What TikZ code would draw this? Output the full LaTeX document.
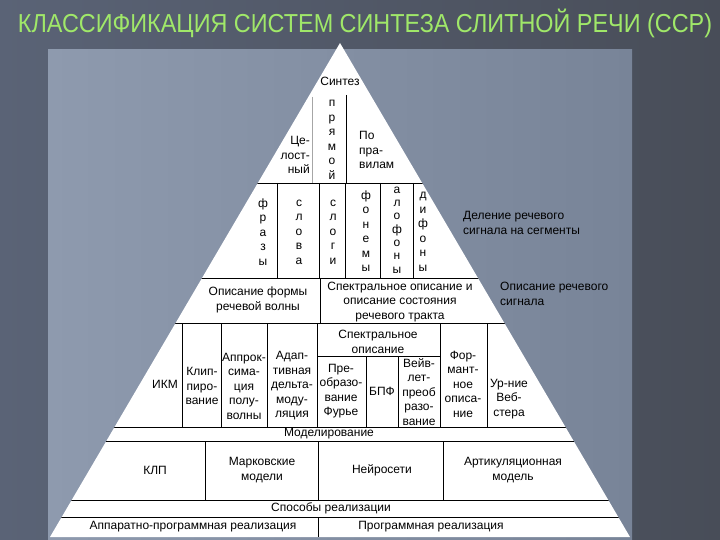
\documentclass[tikz,border=0pt]{standalone}
\usepackage{fontspec}
\setmainfont{Liberation Sans}
\definecolor{bgleft}{RGB}{90,99,118}
\definecolor{bgright}{RGB}{72,77,88}
\definecolor{panelleft}{RGB}{142,154,174}
\definecolor{panelright}{RGB}{120,132,152}
\definecolor{titlegreen}{RGB}{160,232,105}
\begin{document}
\begin{tikzpicture}[x=1pt,y=-1pt,
  txt/.style={font=\fontsize{12}{14.5}\selectfont, align=center, inner sep=0pt},
  col/.style={txt},
  ln/.style={line width=0.7pt, black},
  thin ln/.style={line width=0.5pt, gray!70}]
  \useasboundingbox (0,0) rectangle (720,540);
  \shade[left color=bgleft, right color=bgright] (0,0) rectangle (720,540);
  \shade[left color=panelleft, right color=panelright] (48,50) rectangle (632,540);
  \node[text=titlegreen, inner sep=0pt] (title) at (365,23)
    {\scalebox{0.9}[1]{\fontsize{26}{26}\selectfont КЛАССИФИКАЦИЯ СИСТЕМ СИНТЕЗА СЛИТНОЙ РЕЧИ (ССР)}};

  \coordinate (apex) at (340,43);
  \coordinate (bl) at (50,537);
  \coordinate (br) at (630,537);
  \fill[white] (apex) -- (bl) -- (br) -- cycle;
  \begin{scope}
    \clip (apex) -- (bl) -- (br) -- cycle;
    \foreach \y in {183,278,323,427,441,500,517}
      \draw[ln] (0,\y) -- (720,\y);
  \end{scope}

  \draw[thin ln] (312,97) -- (312,183);
  \draw[ln] (346,95) -- (346,183);
  \foreach \x in {277,319,380,413}
    \draw[ln] (\x,183) -- (\x,278);
  \draw[line width=1pt] (345,183) -- (345,278);
  \draw[ln] (320,278) -- (320,323);
  \foreach \x in {182,221,267,317,440,487}
    \draw[ln] (\x,323) -- (\x,427);
  \draw[ln] (317,356) -- (440,356);
  \foreach \x in {366,398}
    \draw[ln] (\x,356) -- (\x,427);
  \foreach \x in {205,318,443}
    \draw[ln] (\x,441) -- (\x,500);
  \draw[ln] (318,517) -- (318,537);

  \node[txt] (sintez) at (340,81) {Синтез};
  \node[txt, align=right, anchor=east] (whole) at (310,155) {Це-\\лост-\\ный};
  \node[col] (direct) at (332,140) {п\\р\\я\\м\\о\\й};
  \node[txt, align=left, anchor=west] (rules) at (359,150) {По\\пра-\\вилам};

  \node[col] (phrases) at (263,232) {ф\\р\\а\\з\\ы};
  \node[col] (words) at (299,232) {с\\л\\о\\в\\а};
  \node[col] (syllables) at (333,232) {с\\л\\о\\г\\и};
  \node[col] (phonemes) at (366,231) {ф\\о\\н\\е\\м\\ы};
  \node[col, font=\fontsize{12}{13.3}\selectfont] (allophones) at (397,230) {а\\л\\о\\ф\\о\\н\\ы};
  \node[col] (diphones) at (423,232) {д\\и\\ф\\о\\н\\ы};
  \node[txt, align=left, anchor=west] (segments) at (463,223) {Деление речевого\\сигнала на сегменты};

  \node[txt] (waveform) at (258,300) {Описание формы\\речевой волны};
  \node[txt] (spectral) at (400,302) {Спектральное описание и\\описание состояния\\речевого тракта};
  \node[txt, align=left, anchor=west] (signal) at (500,294) {Описание речевого\\сигнала};

  \node[txt] (pcm) at (165,384) {ИКМ};
  \node[txt] (clipping) at (202,386) {Клип-\\пиро-\\вание};
  \node[txt] (approx) at (244,386) {Аппрок-\\сима-\\ция\\полу-\\волны};
  \node[txt] (adm) at (292,386) {Адап-\\тивная\\дельта-\\моду-\\ляция};
  \node[txt] (specdesc) at (378,342) {Спектральное\\описание};
  \node[txt] (fourier) at (341,391) {Пре-\\образо-\\вание\\Фурье};
  \node[txt] (fft) at (382,391) {БПФ};
  \node[txt] (wavelet) at (419,392) {Вейв-\\лет-\\преоб\\разо-\\вание};
  \node[txt] (formant) at (463,384) {Фор-\\мант-\\ное\\описа-\\ние};
  \node[txt] (webster) at (509,399) {Ур-ние\\Веб-\\стера};

  \node[txt] (modeling) at (329,434) {Моделирование};
  \node[txt] (klp) at (155,470) {КЛП};
  \node[txt] (markov) at (262,470) {Марковские\\модели};
  \node[txt] (neural) at (382,470) {Нейросети};
  \node[txt] (artic) at (513,470) {Артикуляционная\\модель};
  \node[txt] (ways) at (331,508) {Способы реализации};
  \node[txt] (hardware) at (193,527) {Аппаратно-программная реализация};
  \node[txt] (software) at (431,527) {Программная реализация};
\end{tikzpicture}
\end{document}
